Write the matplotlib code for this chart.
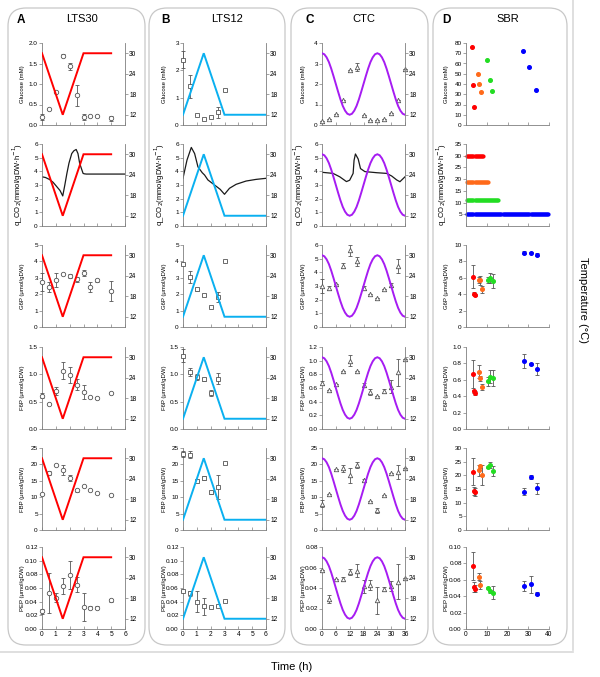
import numpy as np
import matplotlib.pyplot as plt
from matplotlib.patches import FancyBboxPatch
from matplotlib.ticker import FormatStrFormatter

plt.rcParams['font.family'] = ['Liberation Sans', 'DejaVu Sans']

# ---------------- data ----------------
# A: LTS30
time_A = [0, 0.5, 1, 1.5, 2, 2.5, 3, 3.5, 4, 5]
glc_A = [0.19, 0.39, 0.80, 1.69, 1.43, 0.72, 0.19, 0.23, 0.23, 0.16]
glc_A_err = [0.07, 0, 0, 0.03, 0.08, 0.26, 0.07, 0, 0, 0.07]
g6p_A = [2.76, 2.42, 2.86, 3.22, 3.10, 2.90, 3.30, 2.44, 2.84, 2.20]
g6p_A_err = [0.55, 0.3, 0.45, 0, 0.12, 0.15, 0.2, 0.3, 0.1, 0.6]
f6p_A = [0.61, 0.46, 0.70, 1.07, 0.99, 0.81, 0.68, 0.59, 0.56, 0.65]
f6p_A_err = [0.05, 0, 0.07, 0.15, 0.15, 0.1, 0.13, 0, 0.02, 0]
fbp_A = [11.1, 17.5, 19.8, 18.3, 15.8, 12.1, 13.4, 12.3, 11.4, 10.7]
fbp_A_err = [0, 0.6, 0, 1.5, 1.0, 0.5, 0, 0, 0, 0]
pep_A = [0.026, 0.053, 0.046, 0.063, 0.079, 0.065, 0.032, 0.031, 0.031, 0.042]
pep_A_err = [0.004, 0.029, 0.007, 0.012, 0.021, 0.011, 0.02, 0.002, 0.002, 0.002]
qco2_A_t = [0, 0.25, 0.55, 0.8, 1.05, 1.3, 1.5, 1.65, 1.8, 1.95, 2.15, 2.3, 2.47, 2.6, 2.72, 2.85, 2.97, 3.05, 3.2, 6]
qco2_A = [3.6, 3.55, 3.4, 3.2, 2.9, 2.6, 2.2, 3.0, 3.85, 4.6, 5.3, 5.5, 5.6, 5.3, 4.6, 4.2, 3.85, 3.82, 3.8, 3.8]
temp_A_t = [0, 1.5, 3, 5]
temp_A = [30, 12, 30, 30]

# B: LTS12
time_B = [0, 0.5, 1, 1.5, 2, 2.5, 3]
glc_B = [2.39, 1.42, 0.36, 0.21, 0.28, 0.46, 1.29]
glc_B_err = [0.3, 0.42, 0, 0, 0, 0.2, 0.04]
g6p_B = [3.85, 3.06, 2.29, 1.94, 1.20, 1.84, 4.05]
g6p_B_err = [0, 0.35, 0.08, 0.05, 0, 0.3, 0]
f6p_B = [1.34, 1.04, 0.95, 0.91, 0.66, 0.92, np.nan]
f6p_B_err = [0.12, 0.07, 0.05, 0.03, 0.06, 0.1, 0]
fbp_B = [23.2, 23.0, 14.9, 15.9, 11.5, 13.1, 20.5]
fbp_B_err = [0.8, 1.0, 0, 0.6, 0.5, 3.8, 0]
pep_B = [0.056, 0.052, 0.040, 0.033, 0.032, 0.034, 0.0416]
pep_B_err = [0, 0.004, 0.015, 0.012, 0, 0, 0]
qco2_B_t = [0, 0.29, 0.6, 0.84, 1.08, 1.39, 1.56, 1.8, 2.28, 2.69, 3.0, 3.36, 3.84, 4.56, 5.28, 6]
qco2_B = [3.5, 4.83, 5.75, 5.3, 4.33, 3.9, 3.73, 3.37, 3.0, 2.68, 2.32, 2.76, 3.05, 3.29, 3.41, 3.49]
temp_B_t = [0, 1.5, 3, 6]
temp_B = [12, 30, 12, 12]

# C: CTC
time_C = [0, 3, 6, 9, 12, 15, 18, 21, 24, 27, 30, 33, 36]
glc_C = [0.18, 0.29, 0.53, 1.22, 2.70, 2.83, 0.50, 0.26, 0.22, 0.29, 0.58, 1.22, 2.75]
glc_C_err = [0, 0, 0, 0, 0, 0.2, 0, 0, 0, 0, 0, 0, 0]
g6p_C = [3.0, 2.83, 3.17, 4.5, 5.6, 4.8, 2.88, 2.4, 2.11, 2.8, 3.1, 4.44, np.nan]
g6p_C_err = [0.5, 0.15, 0, 0.2, 0.4, 0.35, 0.15, 0, 0, 0, 0.15, 0.5, 0]
f6p_C = [0.67, 0.57, 0.66, 0.85, 1.0, 0.85, 0.64, 0.54, 0.48, 0.56, 0.62, 0.83, 1.02]
f6p_C_err = [0.03, 0, 0, 0, 0.08, 0, 0.03, 0.04, 0, 0.03, 0.1, 0.2, 0]
fbp_C = [8.0, 11.0, 18.5, 18.8, 16.7, 19.8, 15.1, 8.7, 6.0, 10.8, 17.3, 17.7, 19.0]
fbp_C_err = [1.0, 0, 0, 1.0, 2.3, 0.8, 0.3, 0, 0.7, 0, 0, 2.2, 0]
pep_C = [0.058, 0.0296, 0.049, 0.049, 0.056, 0.057, 0.0416, 0.043, 0.028, 0.039, 0.0416, 0.046, 0.050]
pep_C_err = [0, 0.004, 0, 0.002, 0.003, 0.006, 0.006, 0.005, 0.013, 0.002, 0.005, 0.017, 0]
qco2_C_t = [0, 4.8, 7.7, 10.6, 12, 13.5, 13.9, 14.5, 15.7, 16.7, 18.6, 23.7, 28, 30.2, 32.4, 33.8, 36]
qco2_C = [3.93, 3.85, 3.6, 3.25, 3.35, 3.85, 4.8, 5.27, 4.9, 4.2, 3.98, 3.9, 3.85, 3.66, 3.37, 3.24, 3.6]
temp_C_t = list(range(37))
temp_C = [30.0, 29.7, 28.8, 27.4, 25.5, 23.3, 21.0, 18.7, 16.5, 14.6, 13.2, 12.3, 12.0,
          12.3, 13.2, 14.6, 16.5, 18.7, 21.0, 23.3, 25.5, 27.4, 28.8, 29.7, 30.0,
          29.7, 28.8, 27.4, 25.5, 23.3, 21.0, 18.7, 16.5, 14.6, 13.2, 12.3, 12.0]

# D: SBR  (red, orange, green, blue runs)
sbr_colors = ['#ff0000', '#ff6a1a', '#22dd22', '#0000ff']
glc_D_t = [[2.9, 3.5, 3.8], [5.7, 6.5, 7.1], [10.2, 11.4, 12.5], [27.5, 30.6, 33.8]]
glc_D = [[76.1, 38.9, 17.5], [49.7, 39.8, 32.2], [63.1, 44.0, 33.4], [72.0, 56.1, 34.1]]
met_D_t = [[3.2, 3.9, 4.2], [6.2, 6.9, 7.6], [10.6, 11.8, 12.8], [28.0, 31.1, 34.2]]
g6p_D = [[6.12, 4.08, 3.92], [5.72, 5.68, 4.6], [5.72, 5.96, 5.6], [9.08, 9.08, 8.8]]
g6p_D_err = [[1.4, 0.15, 0.1], [0.4, 0.5, 0.4], [0.4, 0.6, 0.9], [0.2, 0.1, 0.2]]
f6p_D = [[0.675, 0.46, 0.44], [0.70, 0.62, 0.51], [0.58, 0.635, 0.62], [0.83, 0.79, 0.73]]
f6p_D_err = [[0.17, 0.02, 0.02], [0.08, 0.03, 0.04], [0.06, 0.08, 0.1], [0.08, 0.01, 0.07]]
fbp_D = [[21.4, 14.3, 13.9], [21.8, 23.3, 20.2], [22.9, 23.8, 21.5], [14.0, 19.4, 15.2]]
fbp_D_err = [[4.8, 1.5, 1.3], [1.9, 0.5, 3.7], [0.3, 1.2, 1.8], [1.3, 0.7, 2.0]]
pep_D = [[0.0772, 0.0512, 0.0492], [0.064, 0.054, np.nan], [0.050, 0.046, 0.044], [0.0524, 0.0544, 0.0432]]
pep_D_err = [[0.017, 0.006, 0.004], [0.004, 0.005, 0], [0.001, 0.002, 0.008], [0.006, 0.01, 0.002]]
qco2_D_level = [29.7, 18.6, 11.2, 5.0]
qco2_D_end = [8.3, 10.6, 15.6, 40.0]

row_labels = ['Glucose (mM)', 'q_CO$_2$(mmol/gDW$\\cdot$h$^{-1}$)', 'G6P (\u03bcmol/gDW)',
              'F6P (\u03bcmol/gDW)', 'FBP (\u03bcmol/gDW)', 'PEP (\u03bcmol/gDW)']

# ---------------- layout ----------------
W, H = 600, 677
col_left = [42, 183, 322, 466]
row_top = [43, 144, 245, 347, 448, 547]
AX_W, AX_H = 83, 82
GRAY = '#7f7f7f'
MK = '#555555'

fig = plt.figure(figsize=(6, 6.77), dpi=100)

bg = fig.add_axes([0, 0, 1, 1])
bg.set_xlim(0, W)
bg.set_ylim(H, 0)
bg.axis('off')
for x0, x1 in [(8, 145), (149, 285), (291, 428), (433, 567)]:
    bg.add_patch(FancyBboxPatch((x0, 8), x1 - x0, 637, boxstyle='round,pad=0,rounding_size=18',
                                fc='white', ec='#c8c8c8', lw=0.9))
bg.plot([573, 573], [0, 650], color='#d9d9d9', lw=1.2)
bg.plot([0, 573], [652, 652], color='#d9d9d9', lw=1.2)

for letter, lx, title, tx in [('A', 21, 'LTS30', 82), ('B', 166, 'LTS12', 227),
                              ('C', 310, 'CTC', 364), ('D', 446, 'SBR', 508)]:
    bg.text(lx, 20, letter, fontsize=8.5, fontweight='bold', ha='center', va='center')
    bg.text(tx, 19, title, fontsize=8, ha='center', va='center')
bg.text(583, 300, 'Temperature (\u00b0C)', fontsize=8, rotation=270, ha='center', va='center')
bg.text(292, 667, 'Time (h)', fontsize=8, ha='center', va='center')


def make_axes(col, row):
    left = col_left[col]
    top = row_top[row]
    return fig.add_axes([left / W, 1 - (top + AX_H) / H, AX_W / W, AX_H / H])


def style_axes(ax, xmax, xstep, ytop, ystep, fmt, row, label_dx):
    ax.set_xlim(0, xmax)
    ax.set_ylim(0, ytop)
    ax.set_xticks(np.arange(0, xmax + xstep / 2, xstep))
    ax.set_yticks(np.arange(0, ytop + ystep / 2, ystep))
    ax.yaxis.set_major_formatter(FormatStrFormatter(fmt))
    ax.spines['top'].set_visible(False)
    ax.spines['right'].set_visible(False)
    for s in ['left', 'bottom']:
        ax.spines[s].set_color(GRAY)
        ax.spines[s].set_linewidth(0.6)
    ax.tick_params(axis='y', labelsize=4.6, length=2, width=0.5, color=GRAY, pad=1)
    ax.tick_params(axis='x', direction='in', labelsize=4.8, length=2, width=0.5, color=GRAY, pad=1.5)
    if row != 5:
        ax.tick_params(axis='x', labelbottom=False)
    ax.set_ylabel(row_labels[row], fontsize=5.5 if row == 1 else 4.3)
    ax.yaxis.set_label_coords(-label_dx / AX_W, 0.5)
    ax.patch.set_alpha(0)


def temp_axis(ax, t, temp, color):
    tw = ax.twinx()
    tw.plot(t, temp, color=color, lw=1.4, solid_joinstyle='miter')
    tw.set_ylim(9, 33)
    tw.set_yticks([12, 18, 24, 30])
    for s in ['left', 'top', 'bottom']:
        tw.spines[s].set_visible(False)
    tw.spines['right'].set_color(GRAY)
    tw.spines['right'].set_linewidth(0.6)
    tw.tick_params(axis='y', labelsize=4.8, length=2, width=0.5, color=GRAY, pad=1)


def err_points(ax, t, y, yerr, marker):
    ax.errorbar(t, y, yerr=yerr, fmt=marker, ms=3.2, mfc='white', mec=MK, mew=0.6,
                ecolor=MK, elinewidth=0.6, capsize=1.4, capthick=0.6, clip_on=False, zorder=3)


# ---------------- columns A, B, C ----------------
columns = [
    dict(t=time_A, marker='o', color='#ff0000', xmax=6, xstep=1, dx=17,
         rows=[(glc_A, glc_A_err), None, (g6p_A, g6p_A_err), (f6p_A, f6p_A_err),
               (fbp_A, fbp_A_err), (pep_A, pep_A_err)],
         q=(qco2_A_t, qco2_A), temp=(temp_A_t, temp_A),
         scales=[(2, 0.5, '%.1f'), (6, 1, '%d'), (5, 1, '%d'), (1.5, 0.5, '%.1f'),
                 (25, 5, '%d'), (0.12, 0.02, '%.2f')]),
    dict(t=time_B, marker='s', color='#0ab0f0', xmax=6, xstep=1, dx=16,
         rows=[(glc_B, glc_B_err), None, (g6p_B, g6p_B_err), (f6p_B, f6p_B_err),
               (fbp_B, fbp_B_err), (pep_B, pep_B_err)],
         q=(qco2_B_t, qco2_B), temp=(temp_B_t, temp_B),
         scales=[(3, 1, '%d'), (6, 1, '%d'), (5, 1, '%d'), (1.5, 0.5, '%.1f'),
                 (25, 5, '%d'), (0.12, 0.02, '%.2f')]),
    dict(t=time_C, marker='^', color='#a61cf2', xmax=36, xstep=6, dx=16,
         rows=[(glc_C, glc_C_err), None, (g6p_C, g6p_C_err), (f6p_C, f6p_C_err),
               (fbp_C, fbp_C_err), (pep_C, pep_C_err)],
         q=(qco2_C_t, qco2_C), temp=(temp_C_t, temp_C),
         scales=[(4, 1, '%d'), (6, 1, '%d'), (6, 1, '%d'), (1.2, 0.2, '%.1f'),
                 (25, 5, '%d'), (0.08, 0.02, '%.2f')]),
]

for ci, col in enumerate(columns):
    for r in range(6):
        ax = make_axes(ci, r)
        ytop, ystep, fmt = col['scales'][r]
        style_axes(ax, col['xmax'], col['xstep'], ytop, ystep, fmt, r, col['dx'])
        temp_axis(ax, col['temp'][0], col['temp'][1], col['color'])
        if r == 1:
            ax.plot(col['q'][0], col['q'][1], color='#1a1a1a', lw=0.9)
        else:
            y, yerr = col['rows'][r]
            err_points(ax, col['t'], y, yerr, col['marker'])

# ---------------- column D ----------------
d_scales = [(80, 10, '%d'), (35, 5, '%d'), (10, 2, '%d'), (1.0, 0.2, '%.1f'),
            (30, 5, '%d'), (0.10, 0.02, '%.2f')]
d_rows = [None, None, (g6p_D, g6p_D_err), (f6p_D, f6p_D_err), (fbp_D, fbp_D_err), (pep_D, pep_D_err)]

for r in range(6):
    ax = make_axes(3, r)
    ytop, ystep, fmt = d_scales[r]
    style_axes(ax, 40, 10, ytop, ystep, fmt, r, 17)
    for k, c in enumerate(sbr_colors):
        if r == 0:
            ax.plot(glc_D_t[k], glc_D[k], 'o', ms=2.6, color=c, mec=c)
        elif r == 1:
            tq = np.arange(0.6, qco2_D_end[k] + 0.01, 0.5)
            ax.plot(tq, [qco2_D_level[k]] * len(tq), 'o', ms=2.0, color=c, clip_on=False)
        else:
            y, yerr = d_rows[r]
            ax.errorbar(met_D_t[k], y[k], yerr=yerr[k], fmt='o', ms=2.6, color=c, mec=c,
                        ecolor=MK, elinewidth=0.6, capsize=1.4, capthick=0.6, zorder=3)
    if r == 1:
        ax.set_yticks(np.arange(5, 36, 5))

fig.savefig('out.png', dpi=100)
